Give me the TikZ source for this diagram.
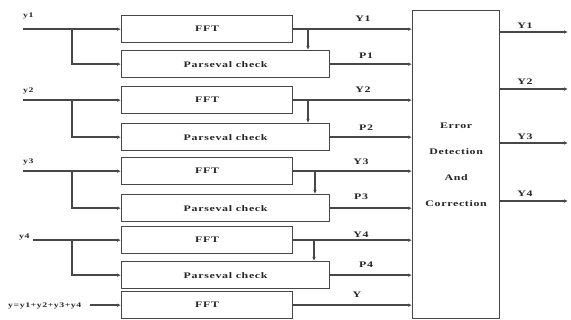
\documentclass[tikz,border=0pt]{standalone}
\usepackage{fontspec}
\setmainfont{Liberation Serif}
\newfontfamily\lbl[FakeStretch=1.4,LetterSpace=8]{Liberation Serif}
\usetikzlibrary{arrows.meta}
\tikzset{
  wire/.style={draw=black!72, line width=1.3pt},
  arr/.style={wire, -{Latex[length=4pt,width=3.5pt]}},
  box/.style={draw=black!72, line width=1.3pt, anchor=north west, inner sep=0pt,
    font=\lbl\bfseries\fontsize{8.5}{9}\selectfont, text=black!85},
  sig/.style={font=\lbl\bfseries\fontsize{8.5}{9}\selectfont, inner sep=0pt, text=black!85},
  inlab/.style={font=\lbl\bfseries\fontsize{7}{8}\selectfont, inner sep=0pt, anchor=west, text=black!85},
}
\begin{document}
\begin{tikzpicture}[x=1pt,y=-1pt]
\fill[white] (0,0) rectangle (571,320);
\useasboundingbox (0,0) rectangle (571,320);

% boxes
\node[box, minimum width=171pt, minimum height=27pt] (f1) at (121,15) {FFT};
\node[box, minimum width=208pt, minimum height=27pt] (p1) at (121,50) {Parseval check};
\node[box, minimum width=171pt, minimum height=27pt] (f2) at (121,86) {FFT};
\node[box, minimum width=208pt, minimum height=27pt] (p2) at (121,123) {Parseval check};
\node[box, minimum width=171pt, minimum height=27pt] (f3) at (121,157) {FFT};
\node[box, minimum width=208pt, minimum height=27pt] (p3) at (121,194) {Parseval check};
\node[box, minimum width=171pt, minimum height=27pt] (f4) at (121,226) {FFT};
\node[box, minimum width=208pt, minimum height=27pt] (p4) at (121,261) {Parseval check};
\node[box, minimum width=171pt, minimum height=27pt] (f5) at (121,291) {FFT};
\node[box, minimum width=87pt, minimum height=308pt, align=center,
  font=\lbl\bfseries\fontsize{8.5}{26}\selectfont] (ecc) at (412,10)
  {Error\\Detection\\And\\Correction};

% input labels
\node[inlab] (ly1) at (23,16) {y1};
\node[inlab] (ly2) at (23,91) {y2};
\node[inlab] (ly3) at (23,162) {y3};
\node[inlab] (ly4) at (19,237) {y4};
\node[inlab] (lys) at (8,306) {y=y1+y2+y3+y4};

% input wiring
\coordinate (xa) at (23,0);
\coordinate (xa4) at (33,0);
\coordinate (xb) at (72,0);
\coordinate (xs) at (90,0);
\draw[arr] (f1.west -| xa) -- (f1.west);
\draw[arr] (f1.west -| xb) |- (p1.west);
\draw[arr] (f2.west -| xa) -- (f2.west);
\draw[arr] (f2.west -| xb) |- (p2.west);
\draw[arr] (f3.west -| xa) -- (f3.west);
\draw[arr] (f3.west -| xb) |- (p3.west);
\draw[arr] (f4.west -| xa4) -- (f4.west);
\draw[arr] (f4.west -| xb) |- (p4.west);
\draw[arr] (f5.west -| xs) -- (f5.west);

% outputs of FFT / Parseval into ECC
\coordinate (d1) at (308,0);
\coordinate (d2) at (308,0);
\coordinate (d3) at (315,0);
\coordinate (d4) at (314,0);
\draw[arr] (f1.east) -- (f1.east -| ecc.west);
\draw[arr] (f1.east -| d1) -- (p1.north -| d1);
\draw[arr] (p1.east) -- (p1.east -| ecc.west);
\draw[arr] (f2.east) -- (f2.east -| ecc.west);
\draw[arr] (f2.east -| d2) -- (p2.north -| d2);
\draw[arr] (p2.east) -- (p2.east -| ecc.west);
\draw[arr] (f3.east) -- (f3.east -| ecc.west);
\draw[arr] (f3.east -| d3) -- (p3.north -| d3);
\draw[arr] (p3.east) -- (p3.east -| ecc.west);
\draw[arr] (f4.east) -- (f4.east -| ecc.west);
\draw[arr] (f4.east -| d4) -- (p4.north -| d4);
\draw[arr] (p4.east) -- (p4.east -| ecc.west);
\draw[arr] (f5.east) -- (f5.east -| ecc.west);

% signal labels
\node[sig] (sY1) at (363,19) {Y1};
\node[sig] (sP1) at (366,56) {P1};
\node[sig] (sY2) at (363,90) {Y2};
\node[sig] (sP2) at (366,128) {P2};
\node[sig] (sY3) at (361,162) {Y3};
\node[sig] (sP3) at (361,197) {P3};
\node[sig] (sY4) at (361,235) {Y4};
\node[sig] (sP4) at (366,265) {P4};
\node[sig] (sY) at (357,295) {Y};

% ECC outputs
\coordinate (o1) at (568,32);
\coordinate (o2) at (568,89);
\coordinate (o3) at (568,143);
\coordinate (o4) at (568,201);
\draw[arr] (ecc.east |- o1) -- (o1);
\draw[arr] (ecc.east |- o2) -- (o2);
\draw[arr] (ecc.east |- o3) -- (o3);
\draw[arr] (ecc.east |- o4) -- (o4);
\node[sig] (r1) at (525,26) {Y1};
\node[sig] (r2) at (525,82) {Y2};
\node[sig] (r3) at (525,137) {Y3};
\node[sig] (r4) at (525,194) {Y4};
\end{tikzpicture}
\end{document}
